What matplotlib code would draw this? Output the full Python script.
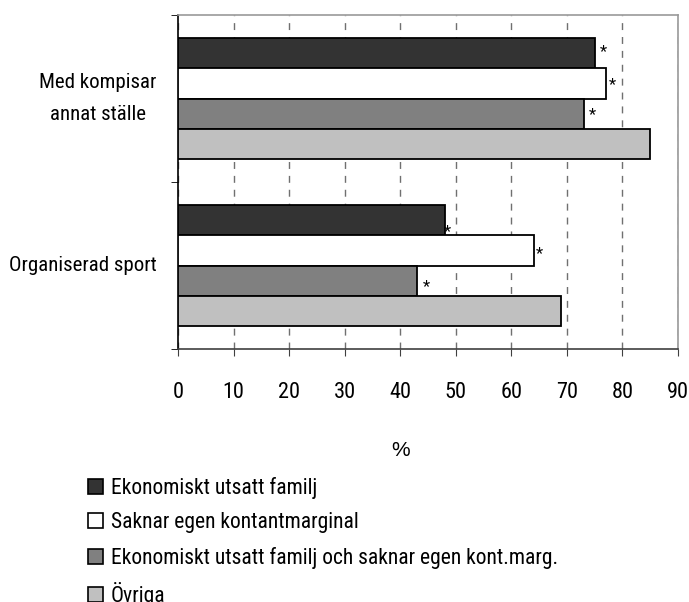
import matplotlib
matplotlib.use("Agg")
import matplotlib.pyplot as plt
from matplotlib.patches import Patch
import numpy as np

plt.rcParams['font.family'] = ['Roboto Condensed', 'DejaVu Sans']

kategorier = ['Med kompisar\nannat ställe', 'Organiserad sport']
serier = ['Ekonomiskt utsatt familj',
          'Saknar egen kontantmarginal',
          'Ekonomiskt utsatt familj och saknar egen kont.marg.',
          'Övriga']
farger = ['#333333', '#ffffff', '#808080', '#c0c0c0']

# värden per serie (Med kompisar, Organiserad sport)
utsatt = [75, 48]
saknar = [77, 64]
utsatt_och_saknar = [73, 43]
ovriga = [85, 69]
varden = [utsatt, saknar, utsatt_och_saknar, ovriga]

# signifikans (*) per serie
stjarna = [[True, True], [True, True], [True, True], [False, False]]
# förskjutning av stjärnan i punkter (dx, dy) per serie och kategori
stjarna_off = [[(6, 1), (2, -8)], [(5, -1), (4, -2)], [(6, -1), (7, -4)], [(0, 0), (0, 0)]]

fig = plt.figure(figsize=(6.89, 6.02), dpi=100)
ax = fig.add_axes([178 / 689, 1 - 349 / 602, 500 / 689, 334 / 602])

h = 0.18
y = np.arange(len(kategorier))
for i, (vals, c) in enumerate(zip(varden, farger)):
    ypos = y + (i - 1.5) * h
    ax.barh(ypos, vals, height=h, color=c, edgecolor='black', linewidth=1.3, zorder=3)
    for j, v in enumerate(vals):
        if stjarna[i][j]:
            dx, dy = stjarna_off[i][j]
            ax.annotate('*', xy=(v, ypos[j]), xytext=(dx, dy), textcoords='offset points',
                        ha='center', va='center', fontsize=12, zorder=4)

ax.set_xlim(0, 90)
ax.set_ylim(1.5, -0.5)
ax.set_xticks(np.arange(0, 91, 10))
ax.set_xticklabels([str(v) for v in range(0, 91, 10)], fontsize=16)
ax.set_yticks(y)
ax.set_yticklabels(kategorier, fontsize=15, linespacing=1.8)
for t in ax.get_yticklabels():
    t.set_multialignment('center')
    t.set_verticalalignment('center')
ax.set_yticks([-0.5, 0.5, 1.5], minor=True)
ax.tick_params(axis='y', which='major', length=0, pad=15.5)
ax.tick_params(axis='y', which='minor', length=5, direction='out', color='black')
ax.tick_params(axis='x', length=5, direction='out', color='#404040', pad=19)

ax.xaxis.grid(True, linestyle=(0, (5, 5)), color='#707070', linewidth=1, zorder=0)
ax.set_axisbelow(True)
ax.spines['top'].set_color('#999999')
ax.spines['right'].set_color('#999999')
ax.spines['left'].set_color('black')
ax.spines['bottom'].set_color('#404040')
for s in ax.spines.values():
    s.set_linewidth(1.2)

fig.text(401 / 689, 1 - 450 / 602, '%', ha='center', va='center', fontsize=15,
         family='Liberation Sans')

handles = [Patch(facecolor=c, edgecolor='black', linewidth=1.2) for c in farger]
fig.legend(handles, serier, loc='upper left', bbox_to_anchor=(88 / 689, 1 - 477 / 602),
           frameon=False, fontsize=15.5, handlelength=0.7, handleheight=0.7,
           handletextpad=0.37, labelspacing=0.62, borderpad=0, borderaxespad=0)

fig.savefig('out.png', dpi=100)
